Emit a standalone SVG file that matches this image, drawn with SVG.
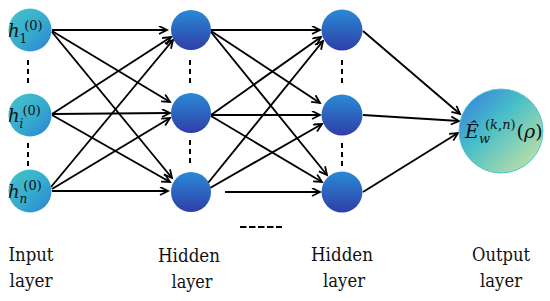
<svg xmlns="http://www.w3.org/2000/svg" width="550" height="301" viewBox="0 0 550 301">
<defs>
<linearGradient id="gIn" x1="0" y1="0" x2="1" y2="1">
<stop offset="0" stop-color="#44c4c9"/>
<stop offset="0.55" stop-color="#36abce"/>
<stop offset="1" stop-color="#2a80d2"/>
</linearGradient>
<linearGradient id="gHid" x1="0" y1="0" x2="0" y2="1">
<stop offset="0" stop-color="#2a8ad6"/>
<stop offset="1" stop-color="#2f3ea8"/>
</linearGradient>
<linearGradient id="gOut" x1="0.1" y1="0.1" x2="0.9" y2="0.9">
<stop offset="0" stop-color="#3a88da"/>
<stop offset="0.4" stop-color="#48bfc8"/>
<stop offset="1" stop-color="#bfe0a6"/>
</linearGradient>
<marker id="ah" markerUnits="userSpaceOnUse" markerWidth="12" markerHeight="11" refX="9" refY="4.5" orient="auto">
<path d="M1,0.5 L9,4.5 L1,8.5" fill="none" stroke="#000" stroke-width="1.8"/>
</marker>
</defs>
<style>
.in{fill:url(#gIn);}
.hid{fill:url(#gHid);}
.out{fill:url(#gOut);stroke:#4cc7c9;stroke-width:1;}
.c{stroke:#000;stroke-width:1.9;fill:none;marker-end:url(#ah);}
.d{stroke:#000;stroke-width:2;stroke-dasharray:5 4;fill:none;}
.t{font-family:'DejaVu Serif','Liberation Serif',serif;fill:#111;}
.lbl{font-size:19px;text-anchor:middle;}
.it{font-style:italic;}
</style>
<rect width="550" height="301" fill="#fff"/>

<g id="connectors">
<line class="c" x1="52" y1="30" x2="167" y2="30"/>
<line class="c" x1="52" y1="31" x2="170" y2="102"/>
<line class="c" x1="52" y1="32" x2="172" y2="178"/>
<line class="c" x1="52" y1="114" x2="171" y2="37"/>
<line class="c" x1="52" y1="114" x2="170" y2="113"/>
<line class="c" x1="52" y1="115" x2="170" y2="182"/>
<line class="c" x1="51" y1="187" x2="173" y2="40"/>
<line class="c" x1="52" y1="189" x2="170" y2="118"/>
<line class="c" x1="52" y1="191" x2="168" y2="191"/>

<line class="c" x1="211" y1="30" x2="320" y2="30"/>
<line class="c" x1="211" y1="31" x2="320" y2="103"/>
<line class="c" x1="211" y1="32" x2="327" y2="175"/>
<line class="c" x1="211" y1="115" x2="321" y2="37"/>
<line class="c" x1="211" y1="115" x2="320" y2="115"/>
<line class="c" x1="211" y1="116" x2="322" y2="182"/>
<line class="c" x1="208" y1="183" x2="323" y2="41"/>
<line class="c" x1="210" y1="188" x2="322" y2="124"/>
<line class="c" x1="225" y1="192" x2="320" y2="192"/>

<line class="c" x1="363" y1="31" x2="460" y2="114"/>
<line class="c" x1="363" y1="115" x2="459" y2="121"/>
<line class="c" x1="363" y1="192" x2="458" y2="133"/>

<line class="d" x1="28" y1="60" x2="28" y2="84"/>
<line class="d" x1="28" y1="143" x2="28" y2="167"/>
<line class="d" x1="190" y1="60" x2="190" y2="84"/>
<line class="d" x1="190" y1="140" x2="190" y2="164"/>
<line class="d" x1="342" y1="60" x2="342" y2="84"/>
<line class="d" x1="342" y1="143" x2="342" y2="167"/>
<line x1="240" y1="227" x2="282" y2="227" stroke="#000" stroke-width="2" stroke-dasharray="6.5 2.5"/>
</g>

<g id="in1">
<circle class="in" cx="30" cy="30" r="21.5"/>
<text class="t" x="8" y="37"><tspan class="it" font-size="18">h</tspan><tspan font-size="12" dy="6">1</tspan><tspan font-size="13" dx="-3" dy="-13">(0)</tspan></text>
</g>
<g id="in2">
<circle class="in" cx="30" cy="115" r="21.5"/>
<text class="t" x="8" y="122"><tspan class="it" font-size="18">h</tspan><tspan class="it" font-size="12" dy="6">i</tspan><tspan font-size="13" dx="-1" dy="-13">(0)</tspan></text>
</g>
<g id="in3">
<circle class="in" cx="30" cy="191" r="21.5"/>
<text class="t" x="8" y="198"><tspan class="it" font-size="18">h</tspan><tspan class="it" font-size="12" dy="5">n</tspan><tspan font-size="13" dx="-4" dy="-13">(0)</tspan></text>
</g>

<g id="h1a"><circle class="hid" cx="191" cy="30" r="20"/></g>
<g id="h1b"><circle class="hid" cx="191" cy="113" r="20"/></g>
<g id="h1c"><circle class="hid" cx="191" cy="192" r="20"/></g>

<g id="h2a"><circle class="hid" cx="342" cy="30" r="20.5"/></g>
<g id="h2b"><circle class="hid" cx="342" cy="115" r="20.5"/></g>
<g id="h2c"><circle class="hid" cx="342" cy="192" r="20.5"/></g>

<g id="out">
<circle class="out" cx="501" cy="131" r="42"/>
<text class="t" x="465" y="138"><tspan class="it" font-size="19">Ê</tspan><tspan class="it" font-size="13" dx="0" dy="5">w</tspan><tspan font-size="13" dx="-5" dy="-14">(<tspan class="it">k</tspan>,<tspan class="it">n</tspan>)</tspan><tspan font-size="19" dx="1" dy="9">(<tspan class="it">ρ</tspan>)</tspan></text>
</g>

<g id="labels">
<text class="t lbl" x="31" y="261" textLength="45" lengthAdjust="spacingAndGlyphs">Input</text>
<text class="t lbl" x="31" y="287" textLength="43" lengthAdjust="spacingAndGlyphs">layer</text>
<text class="t lbl" x="189" y="262" textLength="62" lengthAdjust="spacingAndGlyphs">Hidden</text>
<text class="t lbl" x="192" y="288" textLength="41" lengthAdjust="spacingAndGlyphs">layer</text>
<text class="t lbl" x="342" y="261" textLength="62" lengthAdjust="spacingAndGlyphs">Hidden</text>
<text class="t lbl" x="344" y="287" textLength="42" lengthAdjust="spacingAndGlyphs">layer</text>
<text class="t lbl" x="501" y="261" textLength="58" lengthAdjust="spacingAndGlyphs">Output</text>
<text class="t lbl" x="501" y="287" textLength="42" lengthAdjust="spacingAndGlyphs">layer</text>
</g>
</svg>
